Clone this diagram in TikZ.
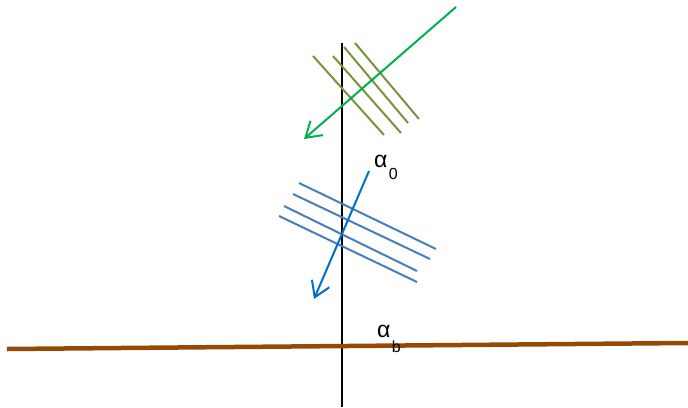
\documentclass[tikz,border=0pt]{standalone}
\usepackage{fontspec}
\setmainfont{Liberation Sans}
\usetikzlibrary{arrows.meta}
\definecolor{olivegr}{RGB}{119,147,60}
\definecolor{arrowgr}{RGB}{0,176,80}
\definecolor{linebl}{RGB}{74,126,187}
\definecolor{arrowbl}{RGB}{0,112,192}
\definecolor{groundbr}{RGB}{152,72,6}

\begin{document}
\begin{tikzpicture}[x=1pt,y=-1pt,line width=2pt,
	ray/.style={-{Straight Barb[length=15pt,width=19pt]}},
	lbl/.style={anchor=base west,inner sep=0pt,font=\fontsize{23}{23}\selectfont}]
		\useasboundingbox (0,0) rectangle (688,407);
		
		% Normal (vertical axis)
		\draw[black] (342,43) -- (342,407);
		
		% Incident wave fronts
		\draw[olivegr] (313,56) -- (384,135);
		\draw[olivegr] (333,56) -- (401,133);
		\draw[olivegr] (344,47) -- (408,123);
		\draw[olivegr] (355,43) -- (419,119);
		
		% Incident ray
		\coordinate (inA) at (456,7);
		\coordinate (inB) at (304,139);
		\draw[arrowgr,ray] (inA) -- (inB);
		
		% Refracted wave fronts
		\draw[linebl] (299,183) -- (436,249);
		\draw[linebl] (293,194) -- (430,259);
		\draw[linebl] (284,206) -- (417,271);
		\draw[linebl] (279,216) -- (417,282);
		
		% Refracted ray
		\coordinate (outA) at (369,171);
		\coordinate (outB) at (314,299);
		\draw[arrowbl,ray] (outA) -- (outB);
		
		% Ground
		\draw[groundbr,line width=4.5pt] (7,349) -- (688,343);
		
		% Angle labels
		\node[lbl] (a0) at (373,167) {α\hspace{1.5pt}\raisebox{-12pt}{\fontsize{16}{16}\selectfont 0}};
		\node[lbl] (ab) at (376,337) {α\hspace{1.5pt}\raisebox{-15pt}{\fontsize{16}{16}\selectfont b}};
	\end{tikzpicture}
\end{document}
